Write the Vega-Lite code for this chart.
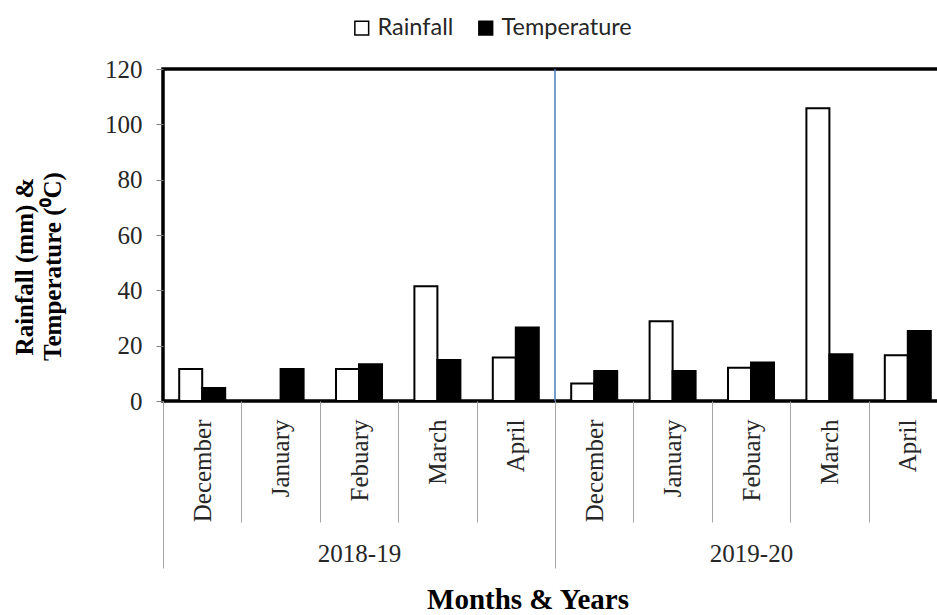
{
  "$schema": "https://vega.github.io/schema/vega-lite/v6.json",
  "width": 784,
  "height": 332,
  "autosize": {"type": "none"},
  "padding": {"left": 163, "top": 69, "right": 0, "bottom": 214},
  "background": "white",
  "config": {"view": {"stroke": "black", "strokeWidth": 3.5}, "font": "Liberation Serif"},
  "datasets": {
    "weather": [
      {"period": "2018-19 December", "series": "Rainfall", "value": 11.6},
      {"period": "2018-19 December", "series": "Temperature", "value": 4.7},
      {"period": "2018-19 January", "series": "Rainfall", "value": 0},
      {"period": "2018-19 January", "series": "Temperature", "value": 11.6},
      {"period": "2018-19 Febuary", "series": "Rainfall", "value": 11.6},
      {"period": "2018-19 Febuary", "series": "Temperature", "value": 13.3},
      {"period": "2018-19 March", "series": "Rainfall", "value": 41.5},
      {"period": "2018-19 March", "series": "Temperature", "value": 14.8},
      {"period": "2018-19 April", "series": "Rainfall", "value": 15.7},
      {"period": "2018-19 April", "series": "Temperature", "value": 26.6},
      {"period": "2019-20 December", "series": "Rainfall", "value": 6.3},
      {"period": "2019-20 December", "series": "Temperature", "value": 10.8},
      {"period": "2019-20 January", "series": "Rainfall", "value": 28.8},
      {"period": "2019-20 January", "series": "Temperature", "value": 10.8},
      {"period": "2019-20 Febuary", "series": "Rainfall", "value": 12.0},
      {"period": "2019-20 Febuary", "series": "Temperature", "value": 13.9},
      {"period": "2019-20 March", "series": "Rainfall", "value": 105.8},
      {"period": "2019-20 March", "series": "Temperature", "value": 16.9},
      {"period": "2019-20 April", "series": "Rainfall", "value": 16.5},
      {"period": "2019-20 April", "series": "Temperature", "value": 25.3}
    ],
    "years": [{"year": "2019-20"}]
  },
  "layer": [
    {
      "data": {"name": "weather"},
      "mark": {"type": "bar", "stroke": "black", "strokeWidth": 2},
      "encoding": {
        "x": {
          "field": "period", "type": "nominal", "sort": null,
          "scale": {"paddingInner": 0, "paddingOuter": 0},
          "axis": {
            "title": null,
            "labelExpr": "split(datum.label, ' ')[1]",
            "labelAngle": 270,
            "labelFont": "Liberation Serif",
            "labelFontSize": 25,
            "labelColor": "#262626",
            "labelPadding": -103,
            "labelOverlap": false,
            "tickBand": "extent",
            "tickSize": 121,
            "tickColor": "#A6A6A6",
            "tickWidth": 1,
            "domain": false,
            "grid": false
          }
        },
        "xOffset": {
          "field": "series", "type": "nominal", "sort": ["Rainfall", "Temperature"],
          "scale": {"paddingInner": 0, "paddingOuter": 0.7045}
        },
        "y": {
          "field": "value", "type": "quantitative",
          "scale": {"domain": [0, 120]},
          "axis": {
            "values": [0, 20, 40, 60, 80, 100, 120],
            "domain": false,
            "grid": false,
            "tickSize": 7,
            "tickColor": "#808080",
            "labelFont": "Liberation Serif",
            "labelFontSize": 25,
            "labelColor": "#262626",
            "labelPadding": 14,
            "title": ["Rainfall (mm) &", "Temperature (⁰C)"],
            "titleFont": "Liberation Serif",
            "titleFontSize": 25,
            "titleFontWeight": "bold",
            "titleColor": "black",
            "titleAngle": 270,
            "titleX": -139,
            "titleY": 197,
            "titleAlign": "center",
            "titleBaseline": "middle",
            "titleLineHeight": 28
          }
        },
        "color": {
          "field": "series", "type": "nominal",
          "scale": {"domain": ["Rainfall", "Temperature"], "range": ["white", "black"]},
          "legend": {
            "title": null,
            "orient": "none",
            "legendX": 187,
            "legendY": -53,
            "direction": "horizontal",
            "symbolType": "square",
            "symbolSize": 190,
            "symbolStrokeColor": "black",
            "symbolStrokeWidth": 1.5,
            "labelFont": "Lato",
            "labelFontSize": 23.5,
            "labelColor": "#262626",
            "labelOffset": 4,
            "columnPadding": 20,
            "padding": 0
          }
        }
      }
    },
    {
      "data": {"name": "years"},
      "mark": {"type": "rule", "color": "#4A7EBB", "strokeWidth": 1.5},
      "encoding": {
        "x": {
          "field": "year", "type": "nominal", "bandPosition": 0,
          "scale": {"domain": ["2018-19", "2019-20"], "paddingInner": 0, "paddingOuter": 0},
          "axis": {
            "orient": "bottom",
            "tickBand": "extent",
            "tickSize": 167,
            "tickColor": "#A6A6A6",
            "tickWidth": 1,
            "domain": false,
            "grid": false,
            "labelAngle": 0,
            "labelFont": "Liberation Serif",
            "labelFontSize": 25,
            "labelColor": "#262626",
            "labelBaseline": "middle",
            "labelPadding": -15,
            "title": "Months & Years",
            "titleFont": "Liberation Serif",
            "titleFontSize": 29,
            "titleFontWeight": "bold",
            "titleColor": "black",
            "titleX": 364.5,
            "titleY": 207,
            "titleAlign": "center",
            "titleBaseline": "alphabetic"
          }
        }
      }
    }
  ],
  "resolve": {"scale": {"x": "independent"}, "axis": {"x": "independent"}}
}
